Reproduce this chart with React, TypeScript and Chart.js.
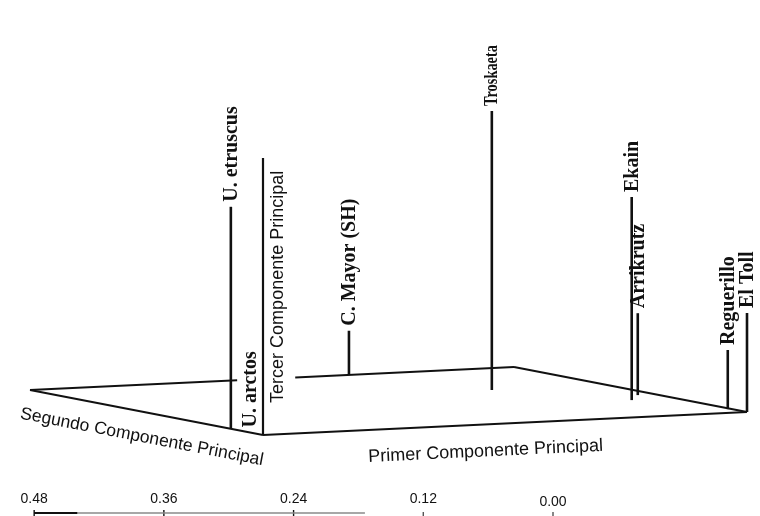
import React, { useEffect, useRef } from "react";
import { Chart, registerables } from "chart.js";

Chart.register(...registerables);

// ---- Data (normalised component scores) ----
const sites = [
  "U. etruscus",
  "U. arctos",
  "C. Mayor (SH)",
  "Troskaeta",
  "Ekain",
  "Arrikrutz",
  "Reguerillo",
  "El Toll",
];
// position along the first principal component (0 = front corner, 1 = right corner)
const pc1 = [0.0, 0.0, 0.659, 0.765, 0.911, 0.964, 0.993, 1.0];
// position along the second principal component (0 = front corner, 1 = left corner)
const pc2 = [0.138, 0.056, 1.0, 0.607, 0.31, 0.394, 0.068, 0.0];
// height along the third principal component
const pc3 = [0.74, 0.0, 0.147, 0.93, 0.677, 0.273, 0.197, 0.33];

const axisTitles = [
  "Primer Componente Principal",
  "Segundo Componente Principal",
  "Tercer Componente Principal",
];
const thirdAxisLength = 0.923;

const scaleTicks = [0.48, 0.36, 0.24, 0.12, 0.0];
const scaleTickLabels = ["0.48", "0.36", "0.24", "0.12", "0.00"];

// ---- Layout (projection of the 3D box onto the page) ----
const ORIGIN = { x: 263, y: 435 };
const E1 = { x: 484, y: -23 };
const E2 = { x: -233, y: -45 };
const UP = 300;
const INK = "#111";
const SERIF = '"Liberation Serif", "Times New Roman", serif';
const SANS = '"Liberation Sans", Arial, Helvetica, sans-serif';
const LABEL_STYLE_DEFAULT = { size: 20, condense: 1 };
const LABEL_STYLE_OVERRIDE: Record<string, { size: number; condense: number }> = {
  Troskaeta: { size: 18, condense: 0.8 },
};

function proj(a: number, b: number, h: number) {
  return {
    x: ORIGIN.x + a * E1.x + b * E2.x,
    y: ORIGIN.y + a * E1.y + b * E2.y - h * UP,
  };
}

export default function App() {
  const ref = useRef<HTMLCanvasElement>(null);

  useEffect(() => {
    document.body.style.margin = "0";
    const canvas = ref.current!;
    const datasets: any[] = [];
    const seg = (
      p: { x: number; y: number },
      q: { x: number; y: number },
      w: number,
      color: string = INK,
      axis: string = "x"
    ) => {
      datasets.push({
        data: [p, q],
        showLine: true,
        borderColor: color,
        backgroundColor: color,
        borderWidth: w,
        pointRadius: 0,
        pointHoverRadius: 0,
        xAxisID: axis,
        yAxisID: "y",
        clip: false,
        borderCapStyle: "butt",
      });
    };

    // floor of the box
    seg(proj(0, 0, 0), proj(1, 0, 0), 2);
    seg(proj(0, 0, 0), proj(0, 1, 0), 2);
    seg(proj(1, 0, 0), proj(1, 1, 0), 2);
    seg(proj(0, 1, 0), proj(0.428, 1, 0), 2);
    seg(proj(0.548, 1, 0), proj(1, 1, 0), 2);
    // third component axis
    seg(proj(0, 0, 0), proj(0, 0, thirdAxisLength), 2.2);
    // stems
    sites.forEach((_, i) => {
      if (pc3[i] > 0) seg(proj(pc1[i], pc2[i], 0), proj(pc1[i], pc2[i], pc3[i]), 2.6);
    });
    // scale bar
    const barY = 513;
    seg({ x: scaleTicks[0], y: barY }, { x: 0.44, y: barY }, 2, INK, "xs");
    seg({ x: 0.44, y: barY }, { x: 0.174, y: barY }, 1.6, "#8a8a8a", "xs");
    scaleTicks.forEach((t, i) => {
      seg({ x: t, y: i < 3 ? 510 : 512 }, { x: t, y: 516 }, 1.4, i < 3 ? INK : "#555", "xs");
    });

    const labelPlugin = {
      id: "labels3d",
      afterDatasetsDraw(chart: any) {
        const ctx = chart.ctx as CanvasRenderingContext2D;
        const xs = chart.scales.x;
        const ys = chart.scales.y;
        const xb = chart.scales.xs;
        const px = (p: { x: number; y: number }) => ({
          x: xs.getPixelForValue(p.x),
          y: ys.getPixelForValue(p.y),
        });
        ctx.save();
        ctx.fillStyle = INK;

        // site labels
        ctx.textAlign = "left";
        ctx.textBaseline = "middle";
        sites.forEach((name, i) => {
          const st = LABEL_STYLE_OVERRIDE[name] ?? LABEL_STYLE_DEFAULT;
          ctx.font = `bold ${st.size}px ${SERIF}`;
          const p = px(proj(pc1[i], pc2[i], pc3[i]));
          ctx.save();
          ctx.translate(p.x + 1, p.y - 5);
          ctx.rotate(-Math.PI / 2);
          ctx.scale(st.condense, 1);
          ctx.fillText(name, 0, 0);
          ctx.restore();
        });

        // third axis title
        {
          const p = px(proj(0, 0, 0.107));
          ctx.save();
          ctx.font = `18px ${SANS}`;
          ctx.translate(p.x + 15, p.y);
          ctx.rotate(-Math.PI / 2);
          ctx.textAlign = "left";
          ctx.fillText(axisTitles[2], 0, 0);
          ctx.restore();
        }
        // second axis title
        {
          const p = px(proj(0, 0.52, -0.085));
          ctx.save();
          ctx.font = `17.5px ${SANS}`;
          ctx.translate(p.x, p.y);
          ctx.rotate(Math.atan2(-E2.y, -E2.x));
          ctx.textAlign = "center";
          ctx.fillText(axisTitles[1], 0, 0);
          ctx.restore();
        }
        // first axis title
        {
          const p = px(proj(0.46, 0, -0.09));
          ctx.save();
          ctx.font = `18px ${SANS}`;
          ctx.translate(p.x, p.y);
          ctx.rotate(Math.atan2(E1.y, E1.x));
          ctx.textAlign = "center";
          ctx.fillText(axisTitles[0], 0, 0);
          ctx.restore();
        }
        // scale bar labels
        ctx.font = `14px ${SANS}`;
        ctx.textAlign = "center";
        ctx.textBaseline = "middle";
        scaleTicks.forEach((t, i) => {
          ctx.fillText(scaleTickLabels[i], xb.getPixelForValue(t), ys.getPixelForValue(i === 4 ? 502 : 499));
        });
        ctx.restore();
      },
    };

    const chart = new Chart(canvas, {
      type: "scatter",
      data: { datasets },
      options: {
        animation: false,
        responsive: false,
        devicePixelRatio: 1,
        events: [],
        layout: { padding: 0 },
        plugins: { legend: { display: false }, tooltip: { enabled: false } },
        scales: {
          x: { type: "linear", display: false, min: 0, max: 760, bounds: "data" },
          xs: {
            type: "linear",
            axis: "x",
            position: "bottom",
            display: false,
            reverse: true,
            min: -0.1915,
            max: 0.5116,
            bounds: "data",
          },
          y: { type: "linear", display: false, min: 0, max: 516, reverse: true, bounds: "data" },
        },
      } as any,
      plugins: [labelPlugin],
    });
    return () => chart.destroy();
  }, []);

  return (
    <div style={{ width: 760, height: 516, background: "#fff" }}>
      <canvas ref={ref} width={760} height={516} style={{ display: "block" }} />
    </div>
  );
}
